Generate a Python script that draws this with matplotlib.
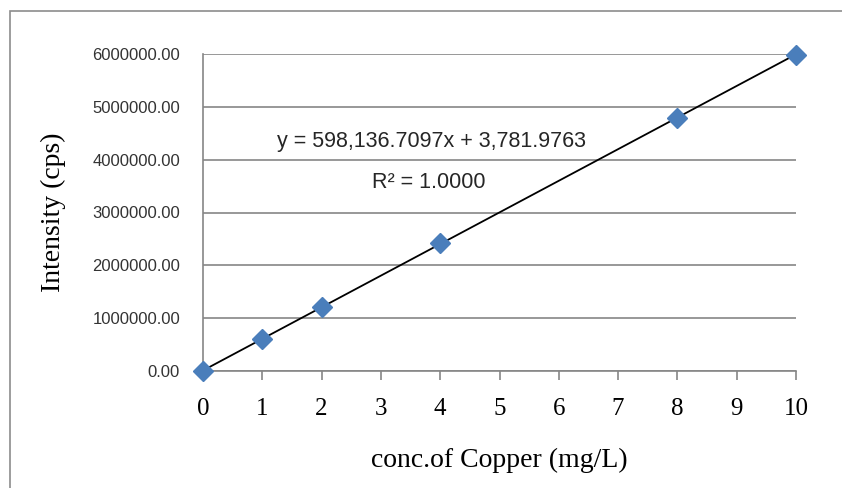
import numpy as np
import matplotlib
matplotlib.use("Agg")
import matplotlib.pyplot as plt
from matplotlib.patches import Rectangle

# calibration standards
conc = [0, 1, 2, 4, 8, 10]
intensity = [0, 605000, 1205000, 2430000, 4790000, 5990000]

x_ticks = list(range(0, 11))
y_ticks = [0, 1000000, 2000000, 3000000, 4000000, 5000000, 6000000]

eq_text = "y = 598,136.7097x + 3,781.9763"
r2_text = "R² = 1.0000"

fig = plt.figure(figsize=(8.42, 4.88), dpi=100)
ax = fig.add_axes([203/842, 1-371/488, 593/842, 317/488])

grid_col = "#868686"

# outer chart border (right and bottom edges run off the picture)
fig.patches.append(Rectangle((10/842, -0.1), 1.2, 1.1 - 11/488, transform=fig.transFigure,
                             fill=False, edgecolor="#8c8c8c", linewidth=1.2))

# least squares trendline
m, b = np.polyfit(conc, intensity, 1)
xl = np.array([0, 10])
ax.plot(xl, m*xl + b, color="black", linewidth=1.3, zorder=3)

ax.plot(conc, intensity, linestyle="none", marker="D", markersize=10,
        color="#4a7ebb", markeredgecolor="#4a7ebb", zorder=4, clip_on=False)

ax.set_xlim(0, 10)
ax.set_ylim(0, 6000000)
ax.set_xticks(x_ticks)
ax.set_yticks(y_ticks)
ax.set_yticklabels(["%.2f" % v for v in y_ticks], fontsize=12, color="#333333",
                   family="Liberation Sans")
ax.set_xticklabels([str(v) for v in x_ticks], fontsize=18, family="Liberation Serif")

ax.yaxis.grid(True, color=grid_col, linewidth=1.2)
ax.set_axisbelow(True)
for s in ["top", "right"]:
    ax.spines[s].set_visible(False)
ax.spines["left"].set_color(grid_col)
ax.spines["bottom"].set_color(grid_col)
ax.spines["left"].set_linewidth(1.2)
ax.spines["bottom"].set_linewidth(1.2)
ax.tick_params(axis="y", length=0, pad=16.5)
ax.tick_params(axis="x", length=6.5, width=1.2, color=grid_col, direction="out", pad=13)

ax.set_xlabel("conc.of Copper (mg/L)", fontsize=20, family="Liberation Serif", labelpad=20)
ax.set_ylabel("Intensity (cps)", fontsize=20, family="Liberation Serif", labelpad=19)

ax.text(3.845, 4240000, eq_text, fontsize=15.5, color="#262626", ha="center", va="baseline",
        family="Liberation Sans")
ax.text(3.81, 3464000, r2_text, fontsize=15.5, color="#262626", ha="center", va="baseline",
        family="Liberation Sans")

fig.savefig("out.png", dpi=100)
